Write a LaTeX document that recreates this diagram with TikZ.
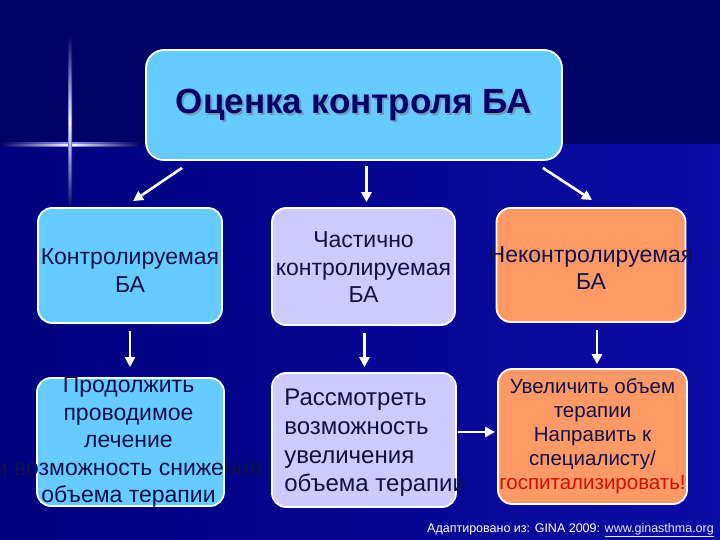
\documentclass[tikz,border=0pt]{standalone}
\usepackage{fontspec}
\setmainfont{Liberation Sans}
\usetikzlibrary{arrows.meta,calc}

\definecolor{navy}{HTML}{000066}
\definecolor{deepblue}{HTML}{0C0CA6}
\definecolor{sky}{HTML}{66CCFF}
\definecolor{lavender}{HTML}{CCCCFF}
\definecolor{salmon}{HTML}{FF9966}
\definecolor{ink}{HTML}{10104A}
\definecolor{alarm}{HTML}{CC1100}
\definecolor{titleshadow}{HTML}{6B9DC2}

\begin{document}
\begin{tikzpicture}[
    x=1pt, y=-1pt,
    >={Triangle[length=10pt,width=10pt]},
    box/.style={draw=white, line width=1.8pt, rounded corners=14pt, inner sep=0pt},
    boxtext/.style={text=ink, align=center, inner sep=0pt,
        font=\fontsize{23}{27.5}\selectfont},
    titletext/.style={font=\bfseries\fontsize{35}{40}\selectfont, inner sep=0pt},
    arr/.style={draw=white, line width=2.6pt, ->},
]
    % background and sparkle
    \useasboundingbox (0,0) rectangle (720,540);
    \fill[navy] (0,0) rectangle (720,540);
    \shade[left color=navy!85!blue, right color=deepblue] (0,145) rectangle (720,540);
    \shade[left color=navy, right color=navy, middle color=blue!40!white]
        (0,143) rectangle (140,147);
    \shade[left color=navy, right color=navy, middle color=white]
        (0,144.3) rectangle (140,145.7);
    \shade[top color=navy, bottom color=navy, middle color=blue!40!white]
        (68,35) rectangle (72,210);
    \shade[top color=navy, bottom color=navy, middle color=white]
        (69.3,35) rectangle (70.7,210);

    % title
    \node[box, fill=sky, minimum width=416pt, minimum height=110pt,
        rounded corners=18pt] (top) at (354,105) {};
    \node[titletext, text=titleshadow] (title-s)
        at ([xshift=2pt,yshift=-2pt]top.center) {Оценка контроля БА};
    \node[titletext, text=navy] (title) at (top.center) {Оценка контроля БА};

    % levels of control
    \node[box, fill=sky, minimum width=184pt, minimum height=115pt] (ctl) at (130,265.5) {};
    \node[boxtext] (ctl-t) at ([yshift=-5pt]ctl.center) {Контролируемая\\БА};
    \node[box, fill=lavender, minimum width=183pt, minimum height=117pt] (pc) at (363.5,266.5) {};
    \node[boxtext] (pc-t) at ([yshift=-1pt]pc.center) {Частично\\контролируемая\\БА};
    \node[box, fill=salmon, minimum width=189pt, minimum height=114pt] (unc) at (591,265) {};
    \node[boxtext] (unc-t) at ([yshift=-3pt]unc.center) {Неконтролируемая\\БА};

    % actions
    \node[box, fill=sky, minimum width=187pt, minimum height=128pt] (cont) at (130.5,442) {};
    \node[boxtext] (cont-t) at ([xshift=-2pt]cont.center)
        {Продолжить\\проводимое\\лечение\\и возможность снижения\\объема терапии};
    \node[box, fill=lavender, minimum width=184pt, minimum height=134pt] (pcact) at (364,440) {};
    \node[boxtext, align=left, anchor=west, font=\fontsize{24}{28.7}\selectfont] (pcact-t)
        at ([xshift=13pt,yshift=-3pt]pcact.west)
        {Рассмотреть\\возможность\\увеличения\\объема терапии};
    \node[box, fill=salmon, minimum width=189pt, minimum height=135pt] (uncact) at (592.5,436.5) {};
    \node[boxtext, font=\fontsize{20.5}{24}\selectfont] (uncact-t) at (uncact.center)
        {Увеличить объем\\терапии\\Направить к\\специалисту/\\\textcolor{alarm}{госпитализировать!}};

    % connectors
    \draw[arr] ([xshift=37pt,yshift=-7pt]top.south west) -- ([xshift=3pt,yshift=6pt]ctl.north);
    \draw[arr] ($(top.south -| pc.north)+(3,5)$) -- ($(pc.north)+(3,-5)$);
    \draw[arr] ([xshift=-20pt,yshift=-7pt]top.south east) -- ([xshift=1pt,yshift=7pt]unc.north);
    \foreach \from/\to/\dx/\gap in {ctl/cont/0/10, pc/pcact/1/5, unc/uncact/6/4}
        \draw[arr] ($(\from.south)+(\dx,7)$) -- ($(\from.south |- \to.north)+(\dx,-\gap)$);
    \draw[arr] ($(pcact.east)+(1,-8)$) -- ($(pcact.east -| uncact.west)+(-2,-8)$);

    \node[anchor=east, text=white, inner sep=0pt, font=\fontsize{12.5}{15}\selectfont] (src)
        at (714,530) {Адаптировано из: GINA 2009:
        \textcolor{lavender!50!white}{\underline{www.ginasthma.org}}};
\end{tikzpicture}
\end{document}
